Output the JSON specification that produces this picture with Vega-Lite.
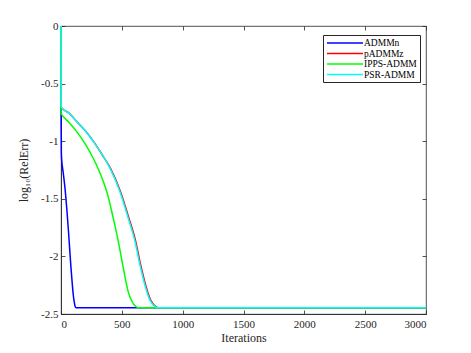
{
  "$schema": "https://vega.github.io/schema/vega-lite/v6.json",
  "width": 365,
  "height": 288,
  "autosize": {"type": "none"},
  "padding": {"left": 61, "top": 26, "right": 45, "bottom": 39},
  "background": "white",
  "config": {
    "view": {"stroke": "#262626", "strokeWidth": 0.8},
    "font": "Liberation Serif",
    "axis": {"grid": false, "domainColor": "#262626", "tickColor": "#262626", "labelColor": "#262626", "titleColor": "#262626", "labelFont": "Liberation Serif", "titleFont": "Liberation Serif", "labelFontSize": 11, "titleFontSize": 12, "titleFontWeight": "normal", "tickSize": -4, "domainWidth": 0.8, "tickWidth": 0.8}
  },
  "data": {"values": [
    {"s":"ADMMn","i":0,"v":0},{"s":"ADMMn","i":1,"v":-0.78},{"s":"ADMMn","i":3,"v":-1.1},{"s":"ADMMn","i":5,"v":-1.15},{"s":"ADMMn","i":18,"v":-1.27},{"s":"ADMMn","i":33,"v":-1.41},{"s":"ADMMn","i":47,"v":-1.58},{"s":"ADMMn","i":60,"v":-1.76},{"s":"ADMMn","i":71,"v":-1.93},{"s":"ADMMn","i":82,"v":-2.1},{"s":"ADMMn","i":92,"v":-2.23},{"s":"ADMMn","i":101,"v":-2.335},{"s":"ADMMn","i":108,"v":-2.39},{"s":"ADMMn","i":115,"v":-2.43},{"s":"ADMMn","i":125,"v":-2.445},{"s":"ADMMn","i":3000,"v":-2.445},
    {"s":"pADMMz","i":0,"v":0},{"s":"pADMMz","i":1,"v":-0.7},{"s":"pADMMz","i":5,"v":-0.709},{"s":"pADMMz","i":70,"v":-0.76},{"s":"pADMMz","i":130,"v":-0.83},{"s":"pADMMz","i":200,"v":-0.91},{"s":"pADMMz","i":268,"v":-1.004},{"s":"pADMMz","i":340,"v":-1.12},{"s":"pADMMz","i":407,"v":-1.236},{"s":"pADMMz","i":490,"v":-1.44},{"s":"pADMMz","i":559,"v":-1.67},{"s":"pADMMz","i":614,"v":-1.87},{"s":"pADMMz","i":655,"v":-2.075},{"s":"pADMMz","i":696,"v":-2.25},{"s":"pADMMz","i":737,"v":-2.38},{"s":"pADMMz","i":779,"v":-2.436},{"s":"pADMMz","i":806,"v":-2.445},{"s":"pADMMz","i":3000,"v":-2.445},
    {"s":"IPPS-ADMM","i":0,"v":0},{"s":"IPPS-ADMM","i":1,"v":-0.76},{"s":"IPPS-ADMM","i":5,"v":-0.767},{"s":"IPPS-ADMM","i":65,"v":-0.835},{"s":"IPPS-ADMM","i":129,"v":-0.917},{"s":"IPPS-ADMM","i":200,"v":-1.025},{"s":"IPPS-ADMM","i":266,"v":-1.15},{"s":"IPPS-ADMM","i":310,"v":-1.25},{"s":"IPPS-ADMM","i":348,"v":-1.35},{"s":"IPPS-ADMM","i":385,"v":-1.47},{"s":"IPPS-ADMM","i":417,"v":-1.61},{"s":"IPPS-ADMM","i":445,"v":-1.74},{"s":"IPPS-ADMM","i":471,"v":-1.87},{"s":"IPPS-ADMM","i":512,"v":-2.1},{"s":"IPPS-ADMM","i":553,"v":-2.31},{"s":"IPPS-ADMM","i":594,"v":-2.41},{"s":"IPPS-ADMM","i":615,"v":-2.435},{"s":"IPPS-ADMM","i":636,"v":-2.445},{"s":"IPPS-ADMM","i":3000,"v":-2.445},
    {"s":"PSR-ADMM","i":0,"v":0},{"s":"PSR-ADMM","i":1,"v":-0.7},{"s":"PSR-ADMM","i":5,"v":-0.709},{"s":"PSR-ADMM","i":70,"v":-0.76},{"s":"PSR-ADMM","i":129,"v":-0.83},{"s":"PSR-ADMM","i":200,"v":-0.91},{"s":"PSR-ADMM","i":266,"v":-1.004},{"s":"PSR-ADMM","i":335,"v":-1.11},{"s":"PSR-ADMM","i":403,"v":-1.236},{"s":"PSR-ADMM","i":485,"v":-1.44},{"s":"PSR-ADMM","i":553,"v":-1.67},{"s":"PSR-ADMM","i":608,"v":-1.87},{"s":"PSR-ADMM","i":649,"v":-2.075},{"s":"PSR-ADMM","i":690,"v":-2.25},{"s":"PSR-ADMM","i":731,"v":-2.38},{"s":"PSR-ADMM","i":773,"v":-2.436},{"s":"PSR-ADMM","i":800,"v":-2.445},{"s":"PSR-ADMM","i":3000,"v":-2.445}
  ]},
  "layer": [
    {
      "mark": {"type": "line", "strokeWidth": 1.5, "clip": false, "interpolate": "monotone"},
      "encoding": {
        "x": {"field": "i", "type": "quantitative", "scale": {"domain": [0, 3000], "nice": false}, "axis": {"title": "Iterations", "values": [0,500,1000,1500,2000,2500,3000], "format": "d", "labelPadding": 8, "titlePadding": 3}},
        "y": {"field": "v", "type": "quantitative", "scale": {"domain": [-2.5, 0], "nice": false, "zero": false}, "axis": {"title": "log₁₀(RelErr)", "values": [0,-0.5,-1,-1.5,-2,-2.5], "labelExpr": "'' + datum.value", "labelPadding": 7, "titlePadding": 10}},
        "color": {"field": "s", "type": "nominal", "scale": {"domain": ["ADMMn","pADMMz","IPPS-ADMM","PSR-ADMM"], "range": ["#0000ff","#ff0000","#00ff00","#00ffff"]},
          "legend": {"title": null, "orient": "none", "legendX": 262, "legendY": 9, "symbolType": "M-1,0H8", "symbolSize": 64, "symbolStrokeWidth": 1.5, "symbolFillColor": "transparent", "labelFont": "Liberation Serif", "labelFontSize": 9.5, "labelColor": "#000000", "fillColor": "white", "strokeColor": "#262626", "padding": 3, "rowPadding": 0.5, "labelOffset": 28}}
      }
    },
    {
      "mark": {"type": "line", "opacity": 0},
      "encoding": {
        "x": {"field": "i", "type": "quantitative", "axis": {"orient": "top", "title": null, "labels": false, "domain": false, "values": [0,500,1000,1500,2000,2500,3000]}},
        "y": {"field": "v", "type": "quantitative", "axis": {"orient": "right", "title": null, "labels": false, "domain": false, "values": [0,-0.5,-1,-1.5,-2,-2.5]}}
      }
    }
  ],
  "resolve": {"axis": {"x": "independent", "y": "independent"}}
}
